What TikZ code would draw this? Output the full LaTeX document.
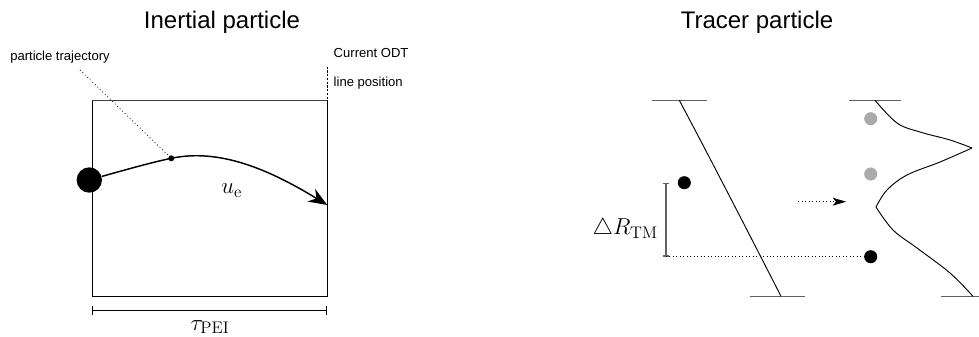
\documentclass[tikz,border=0pt]{standalone}
\usepackage{fontspec}
\newfontfamily\arialf{Liberation Sans}
\usetikzlibrary{arrows.meta}
\begin{document}
\begin{tikzpicture}[x=0.75pt,y=-0.75pt,
  titletext/.style={font=\arialf\fontsize{18}{21}\selectfont},
  smalltext/.style={font=\arialf\fontsize{9.8}{12}\selectfont},
  mathlbl/.style={font=\fontsize{18}{22}\selectfont},
  bigdot/.style={circle,fill=black,inner sep=0pt,minimum size=19pt},
  smalldot/.style={circle,fill=black,inner sep=0pt,minimum size=4.5pt},
  blackdot/.style={circle,fill=black,inner sep=0pt,minimum size=9.8pt},
  graydot/.style={circle,fill=black!33,inner sep=0pt,minimum size=9.8pt},
  capline/.style={draw=black!62,line width=1pt},
  thinline/.style={draw=black,line width=0.7pt},
  boxline/.style={draw=black,line width=0.9pt}
]
\useasboundingbox (0,0) rectangle (979,336);

% titles
\node[titletext] (t1) at (222,22) {Inertial particle};
\node[titletext] (t2) at (757,22) {Tracer particle};

% ---------------- left panel ----------------
\coordinate (A) at (92.3,100.7);
\coordinate (B) at (327.3,100.7);
\coordinate (C) at (327.3,296.7);
\coordinate (D) at (92.3,296.7);
\draw[boxline] (A) -- (D) -- (C) -- (B);
\draw[draw=black!75,line width=0.9pt] (A) -- (B);
\coordinate (odtTop) at (327.3,66.7);
\draw[line width=0.7pt,dash pattern=on 1.6pt off 1.2pt] (odtTop) -- (C);

\node[smalltext,anchor=west] (cur) at (329,53) {Current ODT};
\node[smalltext,anchor=west] (lpos) at (329,83) {line position};
\node[smalltext] (ptraj) at (60,57) {particle trajectory};
\coordinate (ptstart) at (80,70);

\node[bigdot] (bd) at (89.3,180) {};
\node[smalldot] (sd) at (171.3,158.3) {};
\coordinate (tip) at (327.3,205);
\draw[line width=1.1pt,-{Stealth[length=14pt,width=11pt,inset=4.5pt]}]
  (bd) .. controls (135,167) and (158,161) .. (sd.center)
       .. controls (220,148) and (270,170) .. (tip);
\draw[dotted,line width=0.6pt] (ptstart) -- (sd);
\node[mathlbl] (ue) at (231.7,190.7) {$u_{\mathrm{e}}$};

\coordinate (bl) at (91.7,310.7);
\coordinate (br) at (327.3,310.7);
\draw[line width=0.9pt,{Bar[width=7pt]}-{Bar[width=7pt]}] (bl) -- (br);
\node[mathlbl,anchor=base] (tau) at (210,330) {$\tau_{\mathrm{PEI}}$};

% ---------------- right panel ----------------
\coordinate (c1a) at (652.3,100.3);
\coordinate (c1b) at (707,100.3);
\coordinate (c2a) at (750,296.3);
\coordinate (c2b) at (804.7,296.3);
\draw[capline] (c1a) -- (c1b);
\draw[capline] (c2a) -- (c2b);
\coordinate (dg1) at (679.3,100.3);
\coordinate (dg2) at (781,296.3);
\draw[thinline] (dg1) .. controls (700,139) and (740,216) .. (dg2);

\coordinate (c3a) at (848.7,100.3);
\coordinate (c3b) at (900.7,100.3);
\coordinate (c4a) at (941,296.3);
\coordinate (c4b) at (979,296.3);
\draw[capline] (c3a) -- (c3b);
\draw[capline] (c4a) -- (c4b);

\draw[thinline] plot[smooth,tension=0.6] coordinates {(875,100.3) (897,123) (920,132) (950,140) (972,148)};
\draw[thinline] plot[smooth,tension=0.6] coordinates {(972,148) (940,162) (907,175) (887,190) (876,207)};
\draw[thinline] plot[smooth,tension=0.6] coordinates {(876,207) (893,230) (917,248) (950,273) (973,296.3)};

\node[blackdot] (ld) at (684.3,182.7) {};
\node[blackdot] (rd) at (870.7,256.7) {};
\node[graydot] (g1) at (870.7,118.7) {};
\node[graydot] (g2) at (870.7,174) {};

\coordinate (bt) at (666,182.7);
\coordinate (bb) at (666,256.7);
\draw[draw=black!62,line width=1pt,{Bar[width=5pt]}-{Bar[width=5pt]}] (bt) -- (bb);
\node[mathlbl,anchor=east] (dr) at (662.5,229) {$\triangle R_{\mathrm{TM}}$};
\draw[dotted,line width=0.6pt] (bb) -- (rd);

\coordinate (ar1) at (798.3,201.7);
\coordinate (ar2) at (846,201.7);
\draw[dotted,line width=0.6pt,-{Stealth[length=10pt,width=6pt,inset=2.5pt]}] (ar1) -- (ar2);
\end{tikzpicture}
\end{document}
